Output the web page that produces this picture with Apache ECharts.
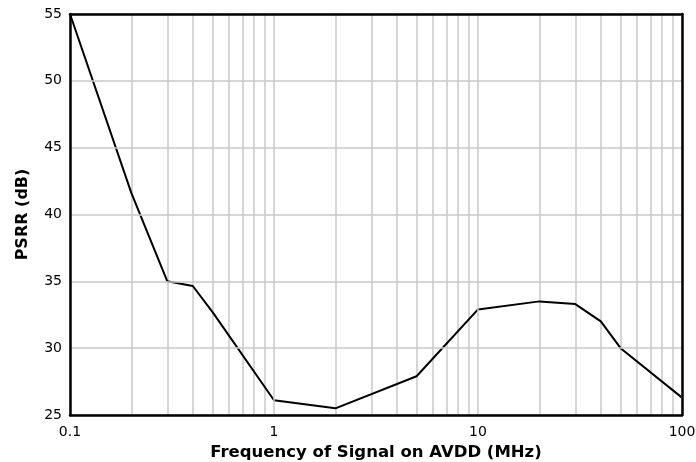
<!DOCTYPE html>
<html>
<head>
<meta charset="utf-8">
<script src="https://cdn.jsdelivr.net/npm/echarts@6/dist/echarts.min.js"></script>
<style>html,body{margin:0;padding:0;background:#fff}#c{width:696px;height:462px}</style>
</head>
<body>
<div id="c"></div>
<script>
const freqMHz = [0.1, 0.2, 0.3, 0.4, 0.5, 1, 2, 5, 10, 20, 30, 40, 50, 100];
const psrrDb  = [55, 41.6, 35.0, 34.65, 32.7, 26.1, 25.5, 27.9, 32.9, 33.5, 33.3, 32.0, 30.0, 26.3];
const minorGrid = [0.2,0.3,0.4,0.5,0.6,0.7,0.8,0.9, 2,3,4,5,6,7,8,9, 20,30,40,50,60,70,80,90];
const xTitle = 'Frequency of Signal on AVDD (MHz)';
const yTitle = 'PSRR (dB)';

const chart = echarts.init(document.getElementById('c'), null, {renderer:'canvas'});
const font = 'DejaVu Sans, sans-serif';
const border = {show: true, lineStyle: {color: '#000', width: 2.5}};
chart.setOption({
  animation: false,
  grid: {left: 70, right: 14, top: 14, bottom: 47, outerBoundsMode: 'none', containLabel: false},
  xAxis: [{
    type: 'log', min: 0.1, max: 100, logBase: 10,
    name: xTitle, nameLocation: 'middle', nameGap: 28,
    nameTextStyle: {fontFamily: font, fontWeight: 'bold', fontSize: 16.5, color: '#000'},
    axisLine: border, axisTick: {show: false},
    axisLabel: {fontFamily: font, fontSize: 14, color: '#000', margin: 10,
      formatter: v => (v < 1 ? String(Number(v.toFixed(1))) : String(Math.round(v)))},
    splitLine: {show: true, lineStyle: {color: '#c8c8c8', width: 1.5}},
    z: 10
  }, {
    type: 'log', min: 0.1, max: 100, logBase: 10, position: 'top',
    axisLine: border, axisTick: {show: false}, axisLabel: {show: false}, splitLine: {show: false}, z: 10
  }],
  yAxis: [{
    type: 'value', min: 25, max: 55, interval: 5,
    name: yTitle, nameLocation: 'middle', nameGap: 39,
    nameTextStyle: {fontFamily: font, fontWeight: 'bold', fontSize: 16, color: '#000'},
    axisLine: border, axisTick: {show: false},
    axisLabel: {fontFamily: font, fontSize: 14, color: '#000', margin: 8},
    splitLine: {show: true, lineStyle: {color: '#c8c8c8', width: 1.5}},
    z: 10
  }, {
    type: 'value', min: 25, max: 55, interval: 5, position: 'right',
    axisLine: border, axisTick: {show: false}, axisLabel: {show: false}, splitLine: {show: false}, z: 10
  }],
  series: [{
    type: 'line', data: freqMHz.map((f,i)=>[f, psrrDb[i]]),
    symbol: 'none', lineStyle: {color: '#000', width: 2},
    z: 5,
    markLine: {
      silent: true, symbol: 'none', label: {show: false},
      lineStyle: {color: '#c8c8c8', width: 1.5, type: 'solid'},
      data: minorGrid.map(v => ({xAxis: v})),
      z: 1
    }
  }]
});
</script>
</body>
</html>
